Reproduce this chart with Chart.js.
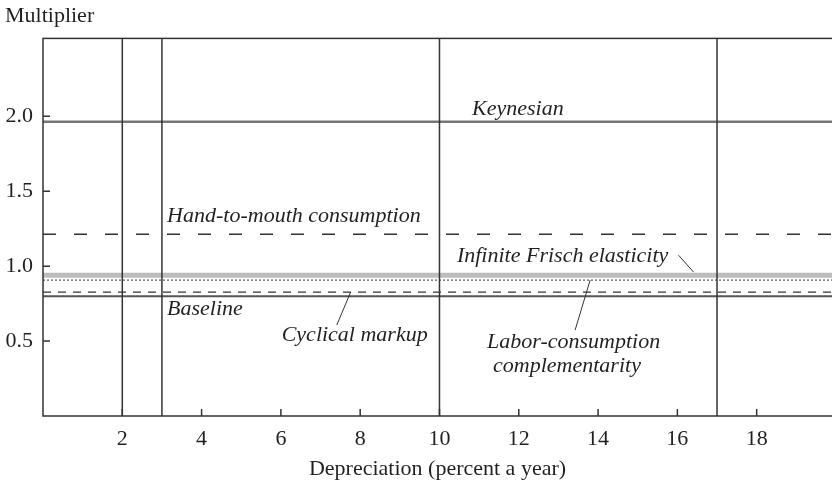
<!DOCTYPE html>
<html>
<head>
<meta charset="utf-8">
<script src="https://cdn.jsdelivr.net/npm/chart.js@4.4.1/dist/chart.umd.min.js"></script>
<style>
  html, body { margin: 0; padding: 0; background: #fff; }
  #wrap { width: 832px; height: 482px; }
</style>
</head>
<body>
<div id="wrap"><canvas id="chart"></canvas></div>
<script>
// data
var xTicks = [2, 4, 6, 8, 10, 12, 14, 16, 18];
var yTicks = [0.5, 1.0, 1.5, 2.0];
var xRange = [0, 19.9];
var yRange = [0, 2.52];
var verticalAt = [2, 3, 10, 17];
var seriesNames = ['Infinite Frisch elasticity', 'Keynesian', 'Hand-to-mouth consumption',
                   'Labor-consumption complementarity', 'Cyclical markup', 'Baseline'];
var multipliers = [0.94, 1.963, 1.213, 0.907, 0.827, 0.80];

var ink = '#231f20';
var serif = "'Liberation Serif', 'DejaVu Serif', serif";

var lineStyles = [
	{color:'#bdbdbd', width:5, dash:[]},
	{color:'#767676', width:2.5, dash:[]},
	{color:'#333', width:1.3, dash:[13,18]},
	{color:'#333', width:1, dash:[2,2]},
	{color:'#333', width:1.3, dash:[8,7]},
	{color:'#555', width:2, dash:[]}
];

var datasets = [];
verticalAt.forEach(function(v){
	datasets.push({
		label:'x=' + v,
		data:[{x:v, y:yRange[0]}, {x:v, y:yRange[1]}],
		borderColor:'#333', borderWidth:1.5, pointRadius:0
	});
});
seriesNames.forEach(function(name, i){
	var s = lineStyles[i];
	datasets.push({
		label:name,
		data:[{x:xRange[0], y:multipliers[i]}, {x:xRange[1], y:multipliers[i]}],
		borderColor:s.color, borderWidth:s.width, borderDash:s.dash, pointRadius:0
	});
});

// labels in data units, plus leader lines
var notes = [
	{text:['Keynesian'], x:10.82, y:2.007},
	{text:['Hand-to-mouth consumption'], x:3.13, y:1.293},
	{text:['Infinite Frisch elasticity'], x:10.44, y:1.027, lead:[16.03, 1.073, 16.41, 0.96]},
	{text:['Baseline'], x:3.13, y:0.673},
	{text:['Cyclical markup'], x:6.02, y:0.50, lead:[7.41, 0.607, 7.76, 0.827]},
	{text:['Labor-consumption', 'complementarity'], x:11.2, y:0.453, lead:[13.42, 0.573, 13.80, 0.907]}
];

var decorate = {
	id:'decorate',
	afterDatasetsDraw:function(chart){
		var c = chart.ctx, a = chart.chartArea;
		var xs = chart.scales.x, ys = chart.scales.y;
		c.save();
		c.strokeStyle = '#333';
		c.lineWidth = 1.5;
		c.strokeRect(a.left, a.top, a.right - a.left + 5, a.bottom - a.top);
		c.beginPath();
		xTicks.forEach(function(v){
			var px = xs.getPixelForValue(v);
			c.moveTo(px, a.bottom); c.lineTo(px, a.bottom - 7);
		});
		yTicks.forEach(function(v){
			var py = ys.getPixelForValue(v);
			c.moveTo(a.left, py); c.lineTo(a.left + 7, py);
		});
		c.stroke();

		c.fillStyle = ink;
		c.font = 'italic 22px ' + serif;
		c.textBaseline = 'alphabetic';
		notes.forEach(function(n){
			var px = xs.getPixelForValue(n.x), py = ys.getPixelForValue(n.y);
			n.text.forEach(function(t, k){
				c.fillText(t, px + (k ? 6 : 0), py + k * 24);
			});
			if (n.lead) {
				c.strokeStyle = '#333';
				c.lineWidth = 1;
				c.beginPath();
				c.moveTo(xs.getPixelForValue(n.lead[0]), ys.getPixelForValue(n.lead[1]));
				c.lineTo(xs.getPixelForValue(n.lead[2]), ys.getPixelForValue(n.lead[3]));
				c.stroke();
			}
		});
		c.restore();
	}
};

new Chart(document.getElementById('chart'), {
	type:'line',
	data:{datasets:datasets},
	plugins:[decorate],
	options:{
		responsive:true,
		maintainAspectRatio:false,
		animation:false,
		layout:{padding:{left:5, right:0, top:0, bottom:0}},
		plugins:{
			legend:{display:false},
			tooltip:{enabled:false},
			title:{
				display:true, text:'Multiplier', align:'start', color:ink,
				font:{family:serif, size:22, weight:'normal'},
				padding:{top:3, bottom:9}
			}
		},
		scales:{
			x:{
				type:'linear', min:xRange[0], max:xRange[1],
				afterBuildTicks:function(s){ s.ticks = xTicks.map(function(v){ return {value:v}; }); },
				afterFit:function(s){ s.height = 66; },
				grid:{display:false, drawTicks:false},
				border:{display:false},
				ticks:{color:ink, font:{family:serif, size:22}, padding:10, maxRotation:0, autoSkip:false},
				title:{display:true, text:'Depreciation (percent a year)', color:ink,
					font:{family:serif, size:22}, padding:{top:2, bottom:0}}
			},
			y:{
				type:'linear', min:yRange[0], max:yRange[1],
				afterBuildTicks:function(s){ s.ticks = yTicks.map(function(v){ return {value:v}; }); },
				afterFit:function(s){ s.width = 38; },
				grid:{display:false, drawTicks:false},
				border:{display:false},
				ticks:{color:ink, font:{family:serif, size:22}, padding:10, autoSkip:false,
					callback:function(v){ return Number(v).toFixed(1); }}
			}
		}
	}
});
</script>
</body>
</html>
